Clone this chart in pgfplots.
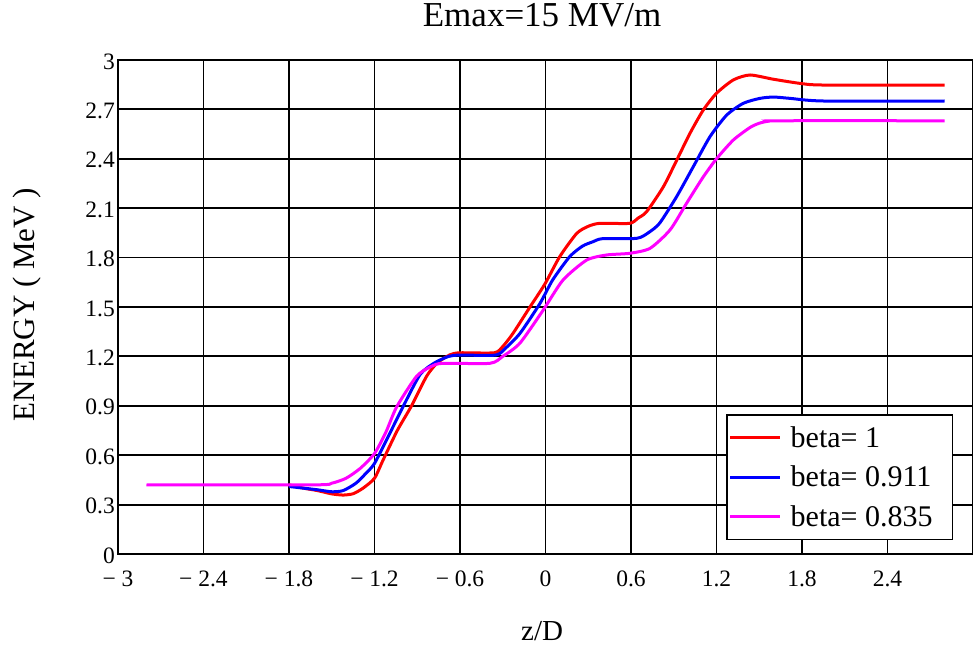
\documentclass[border=0pt]{standalone}
\usepackage{fontspec}
\setmainfont{Liberation Serif}
\usepackage{pgfplots}
\pgfplotsset{compat=1.18}
\definecolor{cRed}{RGB}{255,0,0}
\definecolor{cBlue}{RGB}{0,0,255}
\definecolor{cMag}{RGB}{255,0,255}
\begin{document}
\begin{tikzpicture}
\path[use as bounding box] (-118bp,-94bp) rectangle (855bp,554bp);
\begin{axis}[
  at={(0,0)}, anchor=south west,
  scale only axis, width=855bp, height=494bp,
  xmin=-3, xmax=3, ymin=0, ymax=3,
  xtick={-3,-2.4,-1.8,-1.2,-0.6,0,0.6,1.2,1.8,2.4,3},
  xticklabels={− 3,− 2.4,− 1.8,− 1.2,− 0.6,0,0.6,1.2,1.8,2.4,},
  ytick={0,0.3,0.6,0.9,1.2,1.5,1.8,2.1,2.4,2.7,3},
  yticklabels={0,0.3,0.6,0.9,1.2,1.5,1.8,2.1,2.4,2.7,3},
  grid=major,
  major grid style={black, line width=1.8bp},
  axis line style={black, line width=2bp},
  tick style={draw=none},
  xticklabel style={font=\fontsize{23.5bp}{26bp}\selectfont, inner sep=0pt, anchor=north, yshift=-17bp},
  yticklabel style={font=\fontsize{23.5bp}{26bp}\selectfont, inner sep=0pt, anchor=east, xshift=-3bp, yshift=-1.5bp},
  title={Emax=15 MV/m},
  title style={font=\fontsize{35bp}{40bp}\selectfont, at={(axis description cs:0.496,1.0547)}, anchor=base, inner sep=0pt},
  xlabel={z/D},
  xlabel style={font=\fontsize{29bp}{34bp}\selectfont, at={(axis description cs:0.496,-0.176)}, anchor=base, inner sep=0pt},
  ylabel={ENERGY ( MeV )},
  ylabel style={font=\fontsize{31bp}{36bp}\selectfont, at={(axis description cs:-0.106,0.505)}, anchor=center, rotate=0, inner sep=0pt},
  legend style={at={(axis description cs:0.711,0.2834)}, anchor=north west,
    draw=black, line width=1.6bp, fill=white,
    font=\fontsize{30bp}{34bp}\selectfont,
    inner xsep=2bp, inner ysep=10bp, row sep=13bp,
    /tikz/every odd column/.append style={column sep=7bp}},
  legend cell align=left,
  legend image code/.code={\draw[#1, line width=3bp] (0bp,0bp) -- (50bp,0bp);},
  clip=false,
]
\addplot[cRed, line width=3bp, smooth, tension=0.4] coordinates {
(-1.8,0.42) (-1.7,0.40) (-1.6,0.385) (-1.5,0.365) (-1.42,0.358) (-1.35,0.366)
(-1.28,0.40) (-1.2,0.46) (-1.14,0.57) (-1.04,0.75) (-0.94,0.90) (-0.834,1.08)
(-0.76,1.16) (-0.67,1.21) (-0.6,1.222) (-0.36,1.222) (-0.3,1.26) (-0.228,1.34)
(-0.109,1.50) (-0.004,1.64) (0.10,1.806) (0.219,1.947) (0.30,1.99) (0.38,2.008)
(0.59,2.008) (0.65,2.04) (0.71,2.079) (0.827,2.23) (0.92,2.39) (1.014,2.555)
(1.107,2.696) (1.20,2.798) (1.318,2.879) (1.435,2.909) (1.60,2.883) (1.786,2.858)
(1.95,2.848) (2.80,2.848)
};
\addlegendentry{beta= 1}
\addplot[cBlue, line width=3bp, smooth, tension=0.4] coordinates {
(-1.8,0.41) (-1.7,0.40) (-1.6,0.39) (-1.5,0.378) (-1.42,0.385) (-1.33,0.43)
(-1.26,0.49) (-1.2,0.55) (-1.1,0.72) (-1.0,0.894) (-0.88,1.09) (-0.78,1.16)
(-0.68,1.20) (-0.6,1.208) (-0.35,1.208) (-0.28,1.25) (-0.179,1.34) (-0.04,1.52)
(0.05,1.664) (0.17,1.806) (0.26,1.87) (0.335,1.897) (0.40,1.915) (0.64,1.917)
(0.72,1.95) (0.80,2.008) (0.92,2.17) (1.037,2.352) (1.154,2.534) (1.272,2.666)
(1.388,2.737) (1.505,2.767) (1.60,2.775) (1.716,2.767) (1.95,2.751) (2.80,2.751)
};
\addlegendentry{beta= 0.911}
\addplot[cMag, line width=3bp, smooth, tension=0.4] coordinates {
(-2.80,0.42) (-1.62,0.42) (-1.5,0.43) (-1.4,0.46) (-1.3,0.52) (-1.2,0.61) (-1.12,0.74)
(-1.044,0.894) (-0.904,1.08) (-0.80,1.14) (-0.72,1.158) (-0.39,1.158) (-0.3,1.2)
(-0.18,1.28) (-0.017,1.48) (0.123,1.664) (0.289,1.785) (0.43,1.816) (0.59,1.826)
(0.733,1.856) (0.874,1.968) (0.99,2.13) (1.107,2.29) (1.20,2.40) (1.318,2.514)
(1.435,2.59) (1.50,2.616) (1.57,2.629) (1.66,2.631) (2.80,2.631)
};
\addlegendentry{beta= 0.835\rule{16bp}{0pt}}
\end{axis}
\end{tikzpicture}
\end{document}
